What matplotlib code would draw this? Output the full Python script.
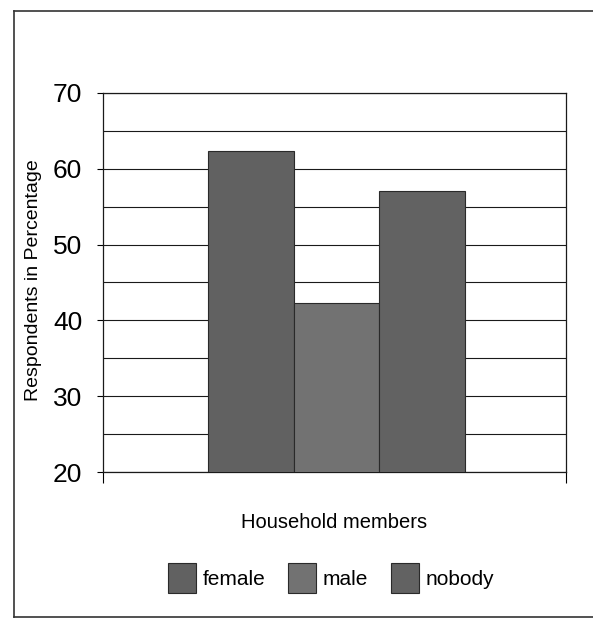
import matplotlib
matplotlib.use("Agg")
import matplotlib.pyplot as plt
from matplotlib.lines import Line2D
from matplotlib.ticker import MultipleLocator

# respondents by household member, in percent
groups = ["female", "male", "nobody"]
values = [62.4, 42.3, 57.1]
colors = ["#616161", "#727272", "#626262"]

plt.rcParams["font.family"] = ["Liberation Sans", "DejaVu Sans"]

fig = plt.figure(figsize=(5.93, 6.20), dpi=100)
fig.patch.set_facecolor("white")

# outer chart border (left, top, bottom)
fig.add_artist(Line2D([14/593, 14/593], [1-617/620, 1-11/620], color="#333333", lw=1.2))
fig.add_artist(Line2D([14/593, 1.0], [1-11/620, 1-11/620], color="#333333", lw=1.2))
fig.add_artist(Line2D([14/593, 1.0], [1-617/620, 1-617/620], color="#333333", lw=1.2))

ax = fig.add_axes([103/593, 1-472/620, 463/593, 379/620])
width = 0.185
pos = [-width + 0.004, 0.004, width + 0.004]
bars = ax.bar(pos, values, width=width, color=colors, edgecolor="#2a2a2a",
              linewidth=0.8, label=groups, zorder=3)

ax.set_xlim(-0.5, 0.5)
ax.set_ylim(20, 70)
ax.yaxis.set_major_locator(MultipleLocator(10))
ax.yaxis.set_minor_locator(MultipleLocator(5))
ax.grid(True, axis="y", which="both", color="#1a1a1a", linewidth=0.8, zorder=0)
ax.set_axisbelow(True)

ax.set_xticks([-0.5, 0.5])
ax.set_xticklabels([])
ax.tick_params(axis="x", direction="out", length=8, width=0.8)
ax.tick_params(axis="y", which="major", direction="out", length=4, width=0.8,
               labelsize=19, pad=11)
ax.tick_params(axis="y", which="minor", length=0)
for s in ax.spines.values():
    s.set_color("#1a1a1a")
    s.set_linewidth(0.9)

fig.text(34/593, 1-280/620, "Respondents in Percentage", rotation=90,
         ha="center", va="center", fontsize=14)
fig.text(334/593, 1-522/620, "Household members", ha="center", va="center",
         fontsize=14.5)

fig.legend(handles=bars.patches, labels=groups, ncol=3, frameon=False,
           loc="center", bbox_to_anchor=(331/593, 1-578/620), fontsize=15,
           handlelength=1.35, handleheight=1.8, handletextpad=0.3,
           columnspacing=1.1)

fig.savefig("out.png", dpi=100)
